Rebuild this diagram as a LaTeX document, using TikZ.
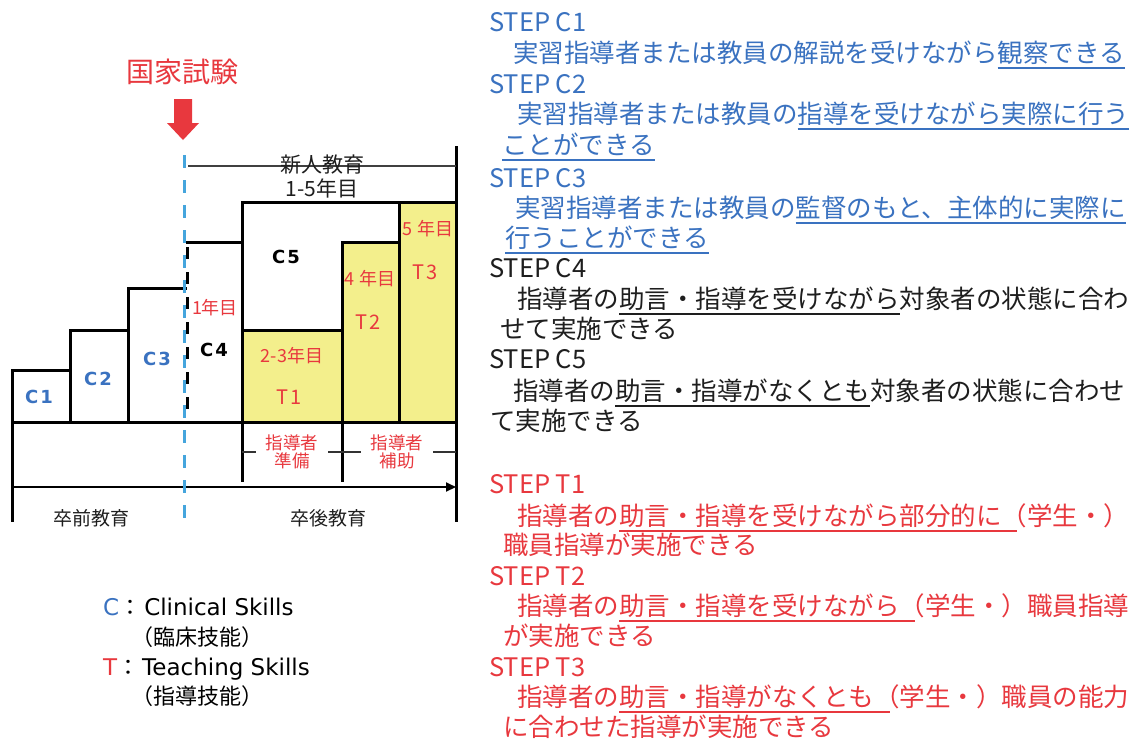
\documentclass[tikz,border=0pt]{standalone}
\usepackage{fontspec}
\setmainfont{Noto Sans CJK JP}
\newfontfamily\dvf{DejaVu Sans}
\usetikzlibrary{arrows.meta}
\definecolor{cblue}{HTML}{3A72C0}
\definecolor{tred}{HTML}{E8383E}
\definecolor{dblue}{HTML}{45A5DD}
\definecolor{yel}{HTML}{F3EF8C}
\definecolor{tblack}{HTML}{1E1E1E}
\newcommand\myul[1]{\setbox0=\hbox{#1}\rlap{\rule[-6.5pt]{\wd0}{1.6pt}}\box0}
\newcommand\halfparen{\makebox[0.6em][l]{（}}
\begin{document}
\begin{tikzpicture}[x=1pt,y=-1pt,
  outl/.style={line width=3pt, black, line cap=rect},
  clab/.style={font=\dvf\bfseries\fontsize{18}{18}\selectfont},
  rlab/.style={text=tred, font=\fontsize{18}{20}\selectfont},
  tlab/.style={text=tred, font=\fontsize{20}{20}\selectfont},
  steptxt/.style={anchor=base west, inner sep=0pt, font=\fontsize{25.5}{30}\selectfont},
  leg/.style={anchor=base west, inner sep=0pt, font=\fontsize{22}{26}\selectfont},
  sub/.style={fill=white, align=center, inner xsep=10pt, inner ysep=1pt, text=tred, font=\fontsize{17.5}{20}\selectfont}
]
\useasboundingbox[fill=white] (0,0) rectangle (1136,740);

% yellow fills
\fill[yel] (242,330) rectangle (342,422);
\fill[yel] (342,242) rectangle (399,422);
\fill[yel] (399,202) rectangle (456,422);

% staircase outlines
\draw[outl] (12,520) -- (12,370) -- (70,370);
\draw[outl] (70,422) -- (70,330) -- (128,330);
\draw[outl] (128,422) -- (128,288) -- (185,288);
\draw[outl] (187,242) -- (242,242);
\draw[outl] (242,202) -- (242,480);
\draw[outl] (242,202) -- (456,202);
\draw[outl] (242,330) -- (342,330);
\draw[outl] (342,480) -- (342,242) -- (399,242);
\draw[outl] (399,202) -- (399,422);
\draw[outl] (456,147) -- (456,520);
\draw[outl] (12,422) -- (456,422);
\draw[line width=3pt, black, dash pattern=on 12pt off 13pt, dash phase=20pt] (187,242) -- (187,422);

% new staff bracket line
\draw[line width=1.4pt, black!75] (188,166) -- (456,166);
\node[font=\fontsize{21}{24}\selectfont, text=tblack] (shinjin) at (322,165) {新人教育};
\node[font=\fontsize{21}{24}\selectfont, text=tblack] (nenme) at (322,188) {1-5年目};

% sub row
\draw[line width=1.4pt, black!80] (242,452) -- (456,452);
\node[sub] (junbi) at (292,452) {指導者\\[-2pt]準備};
\node[sub] (hojo) at (397,452) {指導者\\[-2pt]補助};

% timeline arrow
\coordinate (axL) at (12,487);
\coordinate (axR) at (456,487);
\draw[line width=2pt, -{Triangle[length=10pt,width=9pt]}] (axL) -- (axR);
\node[font=\fontsize{19}{22}\selectfont, text=tblack] (sotsuzen) at (91,518) {卒前教育};
\node[font=\fontsize{19}{22}\selectfont, text=tblack] (sotsugo) at (328,518) {卒後教育};

% blue dashed line
\draw[dblue, line width=3.5pt, dash pattern=on 13pt off 12pt] (184.5,155) -- (184.5,520);

% national exam
\node[text=tred, font=\fontsize{28}{30}\selectfont] (kokka) at (182,72) {国家試験};
\fill[tred] (174,99) -- (192,99) -- (192,123) -- (199,123) -- (183,140) -- (167,123) -- (174,123) -- cycle;

% box labels
\node[clab, text=cblue] (c1) at (39,397) {C\hspace{2pt}1};
\node[clab, text=cblue] (c2) at (98,379) {C\hspace{2pt}2};
\node[clab, text=cblue] (c3) at (157,359) {C\hspace{2pt}3};
\node[clab, text=black] (c4) at (214,350) {C\hspace{2pt}4};
\node[clab, text=black] (c5) at (286,257) {C\hspace{2pt}5};
\node[rlab] (y1) at (215,308) {1年目};
\node[rlab] (y23) at (292,356) {2-3年目};
\node[tlab] (t1) at (289,397) {T\hspace{2pt}1};
\node[rlab] (y4) at (370,279) {4 年目};
\node[tlab] (t2) at (368,322) {T\hspace{2pt}2};
\node[rlab] (y5) at (428,229) {5 年目};
\node[tlab] (t3) at (425,272) {T\hspace{2pt}3};

% legend
\node[leg] (legc) at (103,615.5) {{\dvf\fontsize{23}{26}\selectfont\color{cblue}C}：\hspace{3pt}{\dvf\fontsize{23}{26}\selectfont Clinical Skills}};
\node[leg] (legc2) at (131,645) {（臨床技能）};
\node[leg] (legt) at (103,675.5) {{\dvf\fontsize{23}{26}\selectfont\color{tred}T}：\hspace{3pt}{\dvf\fontsize{23}{26}\selectfont Teaching Skills}};
\node[leg] (legt2) at (131,704) {（指導技能）};

% right column text
\begin{scope}[every node/.style={steptxt}]
\node[text=cblue] (sc1) at (489,31) {STEP C1};
\node[text=cblue] (sc1a) at (513,62.5) {実習指導者または教員の解説を受けながら\myul{観察できる}};
\node[text=cblue] (sc2) at (489,93) {STEP C2};
\node[text=cblue] (sc2a) at (517,123.5) {実習指導者または教員の\myul{指導を受けながら実際に行う}};
\node[text=cblue] (sc2b) at (502,154.5) {\myul{ことができる}};
\node[text=cblue] (sc3) at (489,187) {STEP C3};
\node[text=cblue] (sc3a) at (515,217.5) {実習指導者または教員の\myul{監督のもと、主体的に実際に}};
\node[text=cblue] (sc3b) at (505,247.5) {\myul{行うことができる}};
\node[text=tblack] (sc4) at (489,277) {STEP C4};
\node[text=tblack] (sc4a) at (517,308.5) {指導者の\myul{助言・指導を受けながら}対象者の状態に合わ};
\node[text=tblack] (sc4b) at (500,338.5) {せて実施できる};
\node[text=tblack] (sc5) at (489,368) {STEP C5};
\node[text=tblack] (sc5a) at (513,400.5) {指導者の\myul{助言・指導がなくとも}対象者の状態に合わせ};
\node[text=tblack] (sc5b) at (490,430.5) {て実施できる};
\node[text=tred] (st1) at (489,493) {STEP T1};
\node[text=tred] (st1a) at (517,525.5) {指導者の\myul{助言・指導を受けながら部分的に\halfparen}\hspace{0.4em}学生・）};
\node[text=tred] (st1b) at (503,554.5) {職員指導が実施できる};
\node[text=tred] (st2) at (489,585) {STEP T2};
\node[text=tred] (st2a) at (517,615.5) {指導者の\myul{助言・指導を受けながら\halfparen}\hspace{0.4em}学生・）職員指導};
\node[text=tred] (st2b) at (503,645.5) {が実施できる};
\node[text=tred] (st3) at (489,676) {STEP T3};
\node[text=tred] (st3a) at (517,706.5) {指導者の\myul{助言・指導がなくとも\halfparen}\hspace{0.4em}学生・）職員の能力};
\node[text=tred] (st3b) at (503,736.5) {に合わせた指導が実施できる};
\end{scope}
\end{tikzpicture}
\end{document}
